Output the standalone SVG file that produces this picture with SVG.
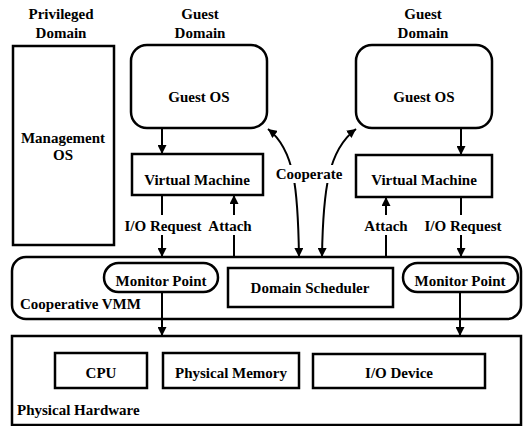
<svg xmlns="http://www.w3.org/2000/svg" width="523" height="426" viewBox="0 0 523 426">
<defs>
<style>
text{font-family:"Liberation Serif","Times New Roman",serif;font-weight:bold;font-size:15px;fill:#000;text-anchor:middle}
.box{fill:#fff;stroke:#000;stroke-width:2.5}
.ln{fill:none;stroke:#000;stroke-width:2}
.l{text-anchor:start}
</style>
<marker id="ah" viewBox="0 0 10 10" refX="10" refY="5" markerWidth="9" markerHeight="9" markerUnits="userSpaceOnUse" orient="auto-start-reverse">
<path d="M0,0 L10,5 L0,10 z" fill="#000"/>
</marker>
</defs>
<rect width="523" height="426" fill="#fff"/>

<g id="hdr-priv"><text x="61" y="19">Privileged</text><text x="61" y="38">Domain</text></g>
<g id="hdr-g1"><text x="200" y="19">Guest</text><text x="200" y="38">Domain</text></g>
<g id="hdr-g2"><text x="423" y="19">Guest</text><text x="423" y="38">Domain</text></g>

<g id="mgmt"><rect class="box" x="13" y="46" width="101" height="199"/><text x="63" y="143">Management</text><text x="63" y="160">OS</text></g>

<g id="guestos1"><rect class="box" x="131" y="45" width="136" height="83" rx="16"/><text x="199" y="102">Guest OS</text></g>
<g id="vm1"><rect class="box" x="132" y="154" width="131" height="41"/><text x="197" y="185">Virtual Machine</text></g>

<g id="guestos2"><rect class="box" x="356" y="45" width="136" height="83" rx="16"/><text x="424" y="102">Guest OS</text></g>
<g id="vm2"><rect class="box" x="356" y="155" width="136" height="42"/><text x="424" y="185">Virtual Machine</text></g>

<g id="vmm"><rect class="box" x="12" y="257" width="509" height="62" rx="14"/><text class="l" x="20" y="309">Cooperative VMM</text></g>
<g id="mp1"><rect class="box" x="104" y="263" width="114" height="29" rx="14.5"/><text x="161" y="286">Monitor Point</text></g>
<g id="sched"><rect class="box" x="228" y="268" width="165" height="39"/><text x="310" y="293">Domain Scheduler</text></g>
<g id="mp2"><rect class="box" x="403" y="263" width="115" height="29" rx="14.5"/><text x="460" y="286">Monitor Point</text></g>

<g id="hw"><rect class="box" x="12" y="336" width="509" height="89"/><text class="l" x="17" y="415">Physical Hardware</text></g>
<g id="cpu"><rect class="box" x="55" y="353" width="92" height="35"/><text x="101" y="378">CPU</text></g>
<g id="mem"><rect class="box" x="163" y="353" width="136" height="35"/><text x="231" y="378">Physical Memory</text></g>
<g id="io"><rect class="box" x="313" y="354" width="172" height="34"/><text x="399" y="378">I/O Device</text></g>

<g id="connectors">
<line class="ln" x1="162" y1="128" x2="162" y2="154" marker-end="url(#ah)"/>
<line class="ln" x1="461" y1="128" x2="461" y2="155" marker-end="url(#ah)"/>
<line class="ln" x1="162" y1="195" x2="162" y2="215"/>
<line class="ln" x1="162" y1="235" x2="162" y2="257" marker-end="url(#ah)"/>
<line class="ln" x1="234" y1="257" x2="234" y2="235"/>
<line class="ln" x1="234" y1="215" x2="234" y2="195" marker-end="url(#ah)"/>
<line class="ln" x1="461" y1="197" x2="461" y2="215"/>
<line class="ln" x1="461" y1="235" x2="461" y2="257" marker-end="url(#ah)"/>
<line class="ln" x1="386" y1="257" x2="386" y2="235"/>
<line class="ln" x1="386" y1="215" x2="386" y2="197" marker-end="url(#ah)"/>
<line class="ln" x1="162" y1="292" x2="162" y2="336" marker-end="url(#ah)"/>
<line class="ln" x1="460" y1="292" x2="460" y2="336" marker-end="url(#ah)"/>
<path class="ln" d="M299,257 C298,190 295,150 268,129" marker-start="url(#ah)" marker-end="url(#ah)"/>
<path class="ln" d="M322,257 C323,190 328,150 356,129" marker-start="url(#ah)" marker-end="url(#ah)"/>
<rect x="276" y="165" width="66" height="18" fill="#fff"/>
<text x="309" y="179">Cooperate</text>
<text x="163" y="231">I/O Request</text>
<text x="230" y="231">Attach</text>
<text x="386" y="231">Attach</text>
<text x="463" y="231">I/O Request</text>
</g>
</svg>
